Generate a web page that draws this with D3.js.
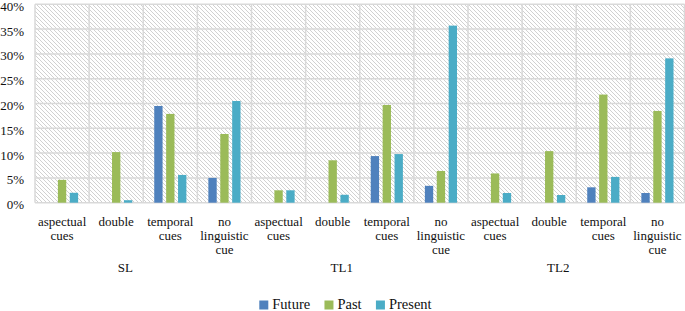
<!DOCTYPE html>
<html>
<head>
<meta charset="utf-8">
<script src="https://cdn.jsdelivr.net/npm/d3@7"></script>
<style>
  html, body { margin: 0; padding: 0; background: #fff; }
  svg { display: block; }
</style>
</head>
<body>
<svg id="chart" width="685" height="311" font-family="'Liberation Serif', 'Times New Roman', 'DejaVu Serif', serif"></svg>
<script>
// ---- data ----
const groups = ["SL", "TL1", "TL2"];
const categories = ["aspectual cues", "double", "temporal cues", "no linguistic cue"];
const seriesNames = ["Future", "Past", "Present"];
// values in % for each group x category, per series
const futureValues = [
  0, 0, 19.5, 5.0,
  0, 0, 9.4, 3.4,
  0, 0, 3.1, 1.95
];
const pastValues = [
  4.6, 10.2, 17.9, 13.85,
  2.5, 8.55, 19.7, 6.4,
  5.9, 10.4, 21.8, 18.5
];
const presentValues = [
  2.0, 0.5, 5.6, 20.5,
  2.5, 1.6, 9.8, 35.7,
  1.95, 1.55, 5.2, 29.1
];
const yTicks = [0, 5, 10, 15, 20, 25, 30, 35, 40];
const colors = ["#4F81BD", "#9BBB59", "#4BACC6"];

// ---- build ----
const FONT = "'Liberation Serif', 'Times New Roman', 'DejaVu Serif', serif";
const TXT = "#111";
const svg = d3.select("#chart");
const mLeft = 35, mRight = 684.5, mTop = 4.3, mBottom = 202.7;

const slots = [];
groups.forEach((g, gi) => categories.forEach((c, ci) => slots.push({g, c, key: gi + "|" + ci, idx: gi * 4 + ci})));

const x0 = d3.scaleBand().domain(slots.map(d => d.key)).range([mLeft, mRight]).paddingInner(0).paddingOuter(0);
const cw = x0.bandwidth();
const x1 = d3.scaleBand().domain(seriesNames).range([cw * 0.203, cw * 0.797]).paddingInner(0.3).paddingOuter(0);
const y = d3.scaleLinear().domain([0, 40]).range([mBottom, mTop]);

// hatch pattern
const defs = svg.append("defs");
const pat = defs.append("pattern").attr("id", "hatch").attr("patternUnits", "userSpaceOnUse")
  .attr("width", 4).attr("height", 4);
pat.append("rect").attr("width", 4).attr("height", 4).attr("fill", "#ffffff");
pat.append("path").attr("d", "M-1,-1 L5,5 M3,-1 L5,1 M-1,3 L1,5")
  .attr("stroke", "#cccccc").attr("stroke-width", 0.9);

svg.append("rect").attr("x", mLeft).attr("y", mTop).attr("width", mRight - mLeft).attr("height", mBottom - mTop)
  .attr("fill", "url(#hatch)");

// horizontal gridlines
svg.append("g").selectAll("line").data(yTicks).join("line")
  .attr("x1", mLeft).attr("x2", mRight)
  .attr("y1", d => y(d)).attr("y2", d => y(d))
  .attr("stroke", "#d9d9d9").attr("stroke-width", 1.5);

// vertical gridlines at category boundaries
const bounds = slots.map(d => x0(d.key)).concat([mRight]);
svg.append("g").selectAll("line").data(bounds).join("line")
  .attr("x1", d => d).attr("x2", d => d)
  .attr("y1", mTop).attr("y2", mBottom)
  .attr("stroke", "#d9d9d9").attr("stroke-width", 1.5);

// y tick labels
svg.append("g").selectAll("text").data(yTicks).join("text")
  .attr("x", 24).attr("y", d => y(d) + 6.5)
  .attr("text-anchor", "end").attr("font-size", 13)
  .attr("font-family", FONT).attr("fill", TXT)
  .text(d => d + "%");

// bars
const seriesValues = [futureValues, pastValues, presentValues];
const barData = [];
slots.forEach(s => seriesNames.forEach((n, si) => {
  barData.push({key: s.key, series: n, v: seriesValues[si][s.idx], color: colors[si]});
}));
svg.append("g").selectAll("rect").data(barData.filter(d => d.v > 0)).join("rect")
  .attr("x", d => x0(d.key) + x1(d.series))
  .attr("width", x1.bandwidth())
  .attr("y", d => y(d.v))
  .attr("height", d => y(0) - y(d.v))
  .attr("fill", d => d.color);

// category labels with wrapping
const catG = svg.append("g");
slots.forEach(s => {
  const cx = x0(s.key) + cw / 2;
  const t = catG.append("text").attr("text-anchor", "middle").attr("font-size", 13)
    .attr("font-family", FONT).attr("fill", TXT);
  const words = s.c.split(" ");
  let lines = [], line = [];
  const probe = svg.append("text").attr("font-size", 13).attr("font-family", FONT);
  words.forEach(w => {
    const test = line.concat([w]).join(" ");
    probe.text(test);
    if (line.length && probe.node().getComputedTextLength() > cw - 2) {
      lines.push(line.join(" "));
      line = [w];
    } else line.push(w);
  });
  lines.push(line.join(" "));
  probe.remove();
  lines.forEach((l, i) => t.append("tspan").attr("x", cx).attr("y", 226 + i * 14).text(l));
});

// group labels
groups.forEach((g, gi) => {
  const a = x0(gi + "|0"), b = x0(gi + "|3") + cw;
  svg.append("text").attr("x", (a + b) / 2 - 18).attr("y", 272.3)
    .attr("text-anchor", "middle").attr("font-size", 13)
    .attr("font-family", FONT).attr("fill", TXT).text(g);
});

// legend
const lg = svg.append("g");
let lx = 259.3;
seriesNames.forEach((n, i) => {
  lg.append("rect").attr("x", lx).attr("y", 300.5).attr("width", 9).attr("height", 9).attr("fill", colors[i]);
  const t = lg.append("text").attr("x", lx + 13).attr("y", 309).attr("font-size", 14.5)
    .attr("font-family", FONT).attr("fill", TXT).text(n);
  lx = lx + 13 + t.node().getComputedTextLength() + 14.3;
});
</script>
</body>
</html>
